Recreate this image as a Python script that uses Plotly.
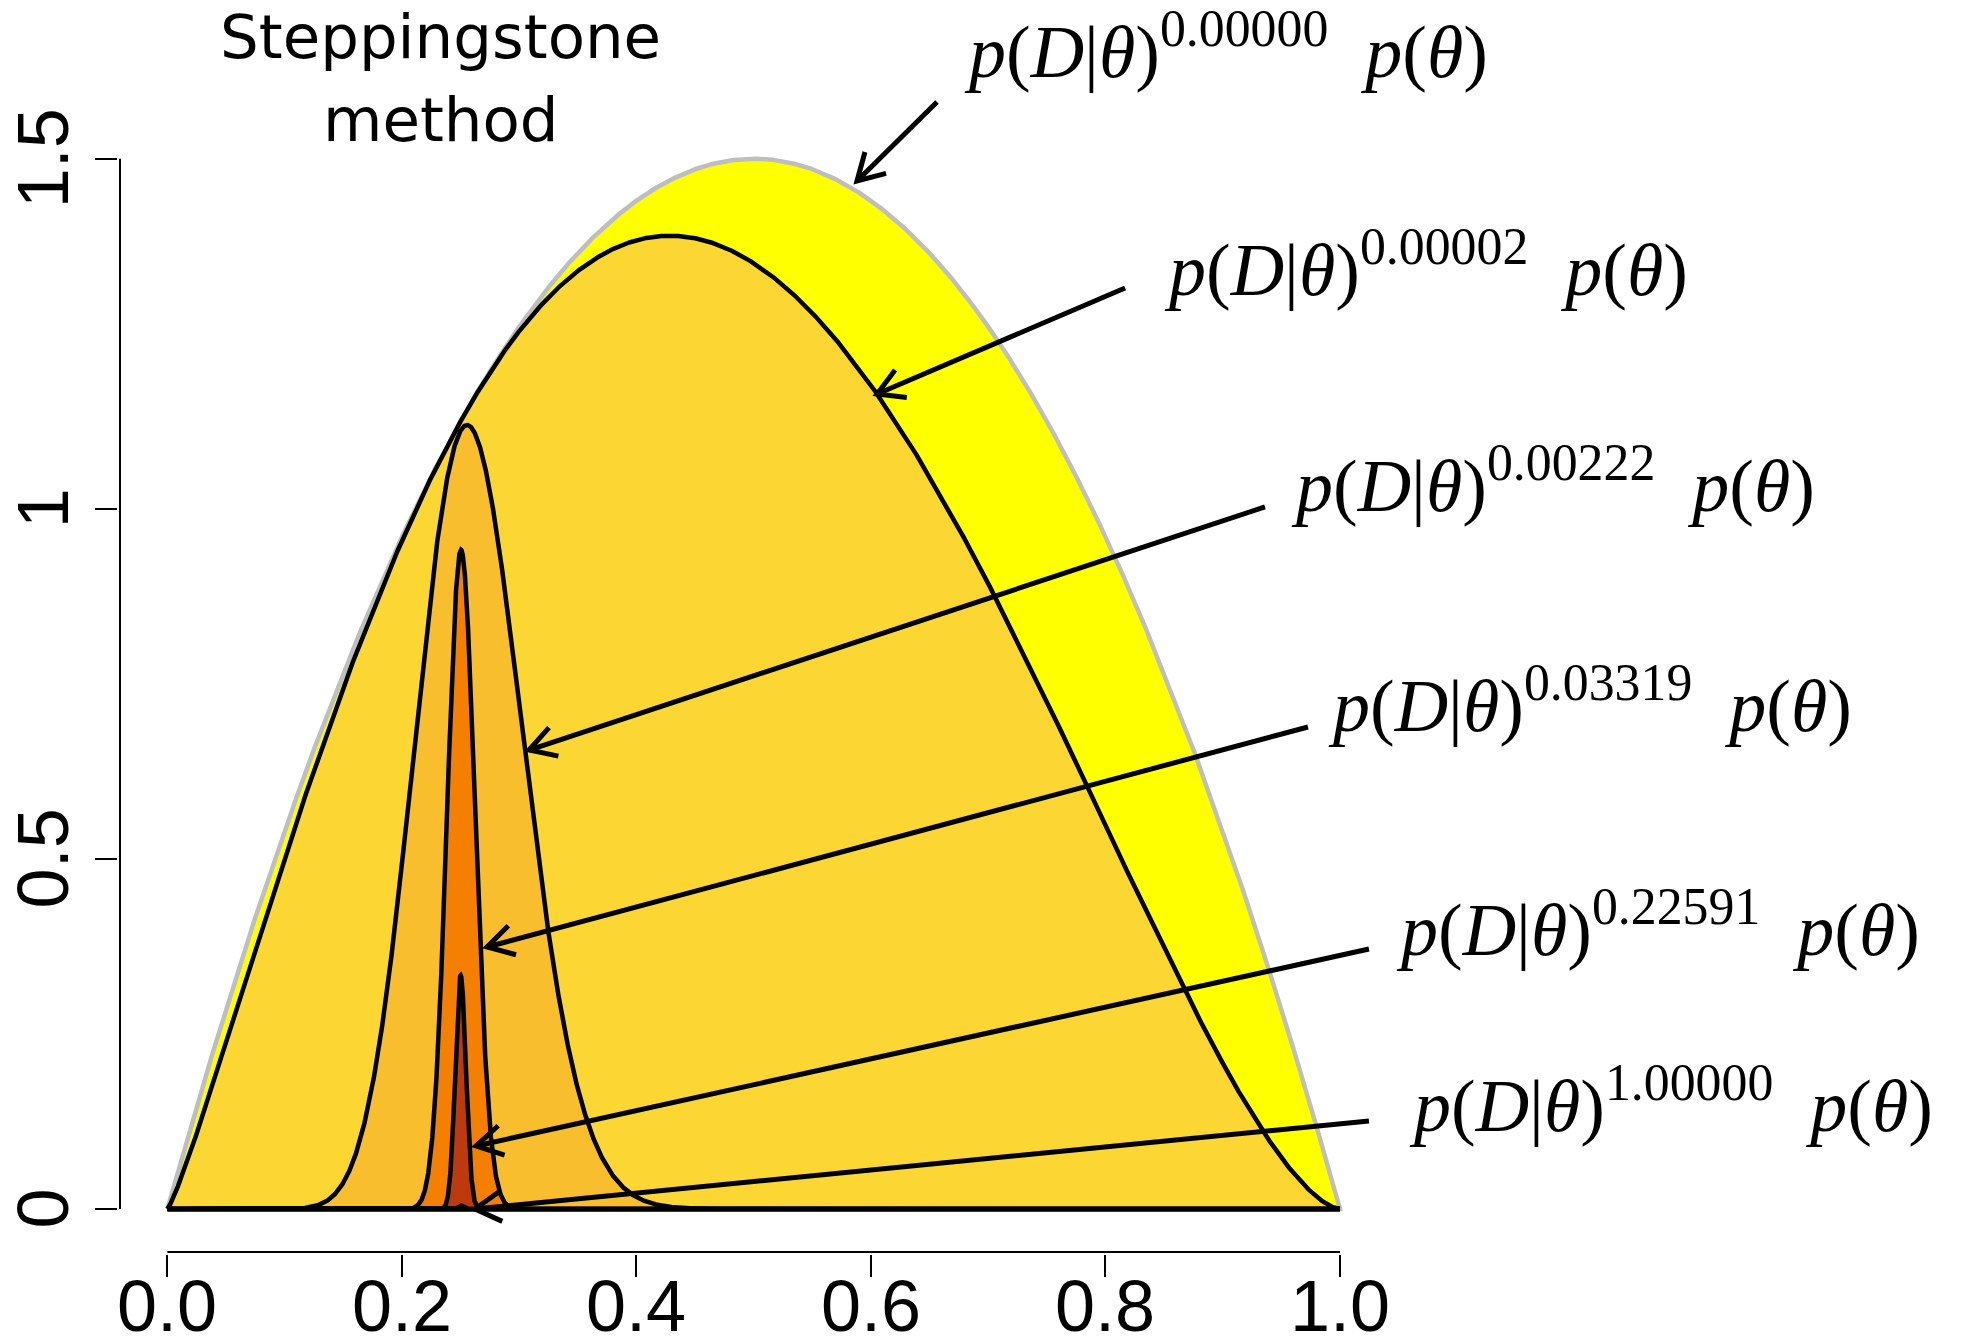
import math
import numpy as np
import plotly.graph_objects as go

# Power-posterior exponents (beta) and their printed labels
beta_powers = [0.0, 0.00002, 0.00222, 0.03319, 0.22591, 1.0]
power_labels = ["0.00000", "0.00002", "0.00222", "0.03319", "0.22591", "1.00000"]

# Fill / border colours of each stacked density, prior first
fill_colors = ["#FFFF00", "#FCD734", "#F9BE2E", "#F57F00", "#BD3A0F", "#8B1A00"]
edge_colors = ["#BEBEBE", "black", "black", "black", "black", "black"]

# Binomial data and Beta prior
n_trials = 40000
n_successes = 10000
prior_a, prior_b = 2.0, 2.0

x_tick_vals = [0.0, 0.2, 0.4, 0.6, 0.8, 1.0]
x_tick_text = ["0.0", "0.2", "0.4", "0.6", "0.8", "1.0"]
y_tick_vals = [0.0, 0.5, 1.0, 1.5]
y_tick_text = ["0", "0.5", "1", "1.5"]

# Label anchors (left edge, vertical middle) and arrows (start -> tip), data units
label_pos = [(0.6778, 1.6597), (0.8483, 1.3483), (0.9566, 1.0399),
             (0.9882, 0.7257), (1.0462, 0.4057), (1.0573, 0.1544)]
arrow_pos = [((0.6563, 1.5810), (0.5881, 1.4682)),
             ((0.8167, 1.3153), (0.6052, 1.1640)),
             ((0.9360, 1.0026), (0.3084, 0.6555)),
             ((0.9727, 0.6884), (0.2726, 0.3742)),
             ((1.0247, 0.3713), (0.2632, 0.0900)),
             ((1.0247, 0.1257), (0.2623, 0.0000))]

FIG_W, FIG_H = 1969, 1343
M_L, M_B = 118, 89
x_range = [-0.04213, 1.53641]
y_range = [-0.06427, 1.72665]
plot_w, plot_h = FIG_W - M_L, FIG_H - M_B
px_per_x = plot_w / (x_range[1] - x_range[0])
px_per_y = plot_h / (y_range[1] - y_range[0])

theta = np.linspace(0.0, 1.0, 8001)[1:-1]
log_choose = (math.lgamma(n_trials + 1) - math.lgamma(n_successes + 1)
              - math.lgamma(n_trials - n_successes + 1))
log_lik = (log_choose + n_successes * np.log(theta)
           + (n_trials - n_successes) * np.log1p(-theta))
log_prior = (math.lgamma(prior_a + prior_b) - math.lgamma(prior_a) - math.lgamma(prior_b)
             + (prior_a - 1) * np.log(theta) + (prior_b - 1) * np.log1p(-theta))

fig = go.Figure()
for b, fc, ec in zip(beta_powers, fill_colors, edge_colors):
    dens = np.exp(b * log_lik + log_prior)
    xs = np.concatenate([[0.0], theta, [1.0, 0.0]])
    ys = np.concatenate([[0.0], dens, [0.0, 0.0]])
    fig.add_trace(go.Scatter(x=xs, y=ys, mode="lines", fill="toself",
                             fillcolor=fc, line=dict(color=ec, width=4.5),
                             hoverinfo="skip", showlegend=False))

shapes = []
# axis lines spanning first to last tick
x_axis_y = y_range[0] + 2 / px_per_y
y_axis_x = x_range[0] + 2 / px_per_x
shapes.append(dict(type="line", x0=0, x1=1, y0=x_axis_y, y1=x_axis_y,
                   xref="x", yref="y", line=dict(color="black", width=2)))
shapes.append(dict(type="line", x0=y_axis_x, x1=y_axis_x, y0=0, y1=1.5,
                   xref="x", yref="y", line=dict(color="black", width=2)))

# open-headed arrows
head_len, head_ang = 30.0, math.radians(30)
for (x0, y0), (x1, y1) in arrow_pos:
    shapes.append(dict(type="line", x0=x0, y0=y0, x1=x1, y1=y1, xref="x", yref="y",
                       line=dict(color="black", width=5)))
    dx, dy = (x0 - x1) * px_per_x, (y0 - y1) * px_per_y
    ang = math.atan2(dy, dx)
    pts = []
    for s in (head_ang, -head_ang):
        wx = x1 + head_len * math.cos(ang + s) / px_per_x
        wy = y1 + head_len * math.sin(ang + s) / px_per_y
        pts.append((wx, wy))
    path = "M {:.5f},{:.5f} L {:.5f},{:.5f} L {:.5f},{:.5f}".format(
        pts[0][0], pts[0][1], x1, y1, pts[1][0], pts[1][1])
    shapes.append(dict(type="path", path=path, xref="x", yref="y",
                       line=dict(color="black", width=5)))

annotations = []
for (lx, ly), lab in zip(label_pos, power_labels):
    txt = ("<i>p</i>(<i>D</i>|<i>θ</i>)<sup>" + lab + "</sup>&nbsp;&nbsp;"
           "<i>p</i>(<i>θ</i>)")
    annotations.append(dict(x=lx, y=ly, xref="x", yref="y", text=txt,
                            showarrow=False, xanchor="left", yanchor="middle",
                            font=dict(family="Liberation Serif", size=74, color="black")))

# title
title_font = dict(family="DejaVu Sans", size=61, color="black")
annotations.append(dict(x=0.2333, y=1.674, xref="x", yref="y", text="Steppingstone",
                        showarrow=False, xanchor="center", yanchor="middle", font=title_font))
annotations.append(dict(x=0.2333, y=1.556, xref="x", yref="y", text="method",
                        showarrow=False, xanchor="center", yanchor="middle", font=title_font))

# tick labels, placed in the margins (paper units on the cross axis)
tick_font = dict(family="Liberation Sans", size=72, color="black")
x_label_paper_y = -52.0 / plot_h
y_label_paper_x = -75.5 / plot_w
for v, t in zip(x_tick_vals, x_tick_text):
    annotations.append(dict(x=v, y=x_label_paper_y, xref="x", yref="paper", text=t,
                            showarrow=False, xanchor="center", yanchor="middle",
                            font=tick_font))
for v, t in zip(y_tick_vals, y_tick_text):
    annotations.append(dict(x=y_label_paper_x, y=v, xref="paper", yref="y", text=t,
                            showarrow=False, xanchor="center", yanchor="middle",
                            textangle=-90, font=tick_font))

fig.update_layout(
    width=FIG_W, height=FIG_H,
    margin=dict(l=M_L, r=0, t=0, b=M_B, autoexpand=False),
    paper_bgcolor="white", plot_bgcolor="white",
    shapes=shapes, annotations=annotations,
    xaxis=dict(range=x_range, showgrid=False, zeroline=False, showline=False,
               tickmode="array", tickvals=x_tick_vals, showticklabels=False,
               ticks="outside", ticklen=22, tickwidth=2, tickcolor="black"),
    yaxis=dict(range=y_range, showgrid=False, zeroline=False, showline=False,
               tickmode="array", tickvals=y_tick_vals, showticklabels=False,
               ticks="outside", ticklen=22, tickwidth=2, tickcolor="black"),
)

fig.write_html("out.html")
